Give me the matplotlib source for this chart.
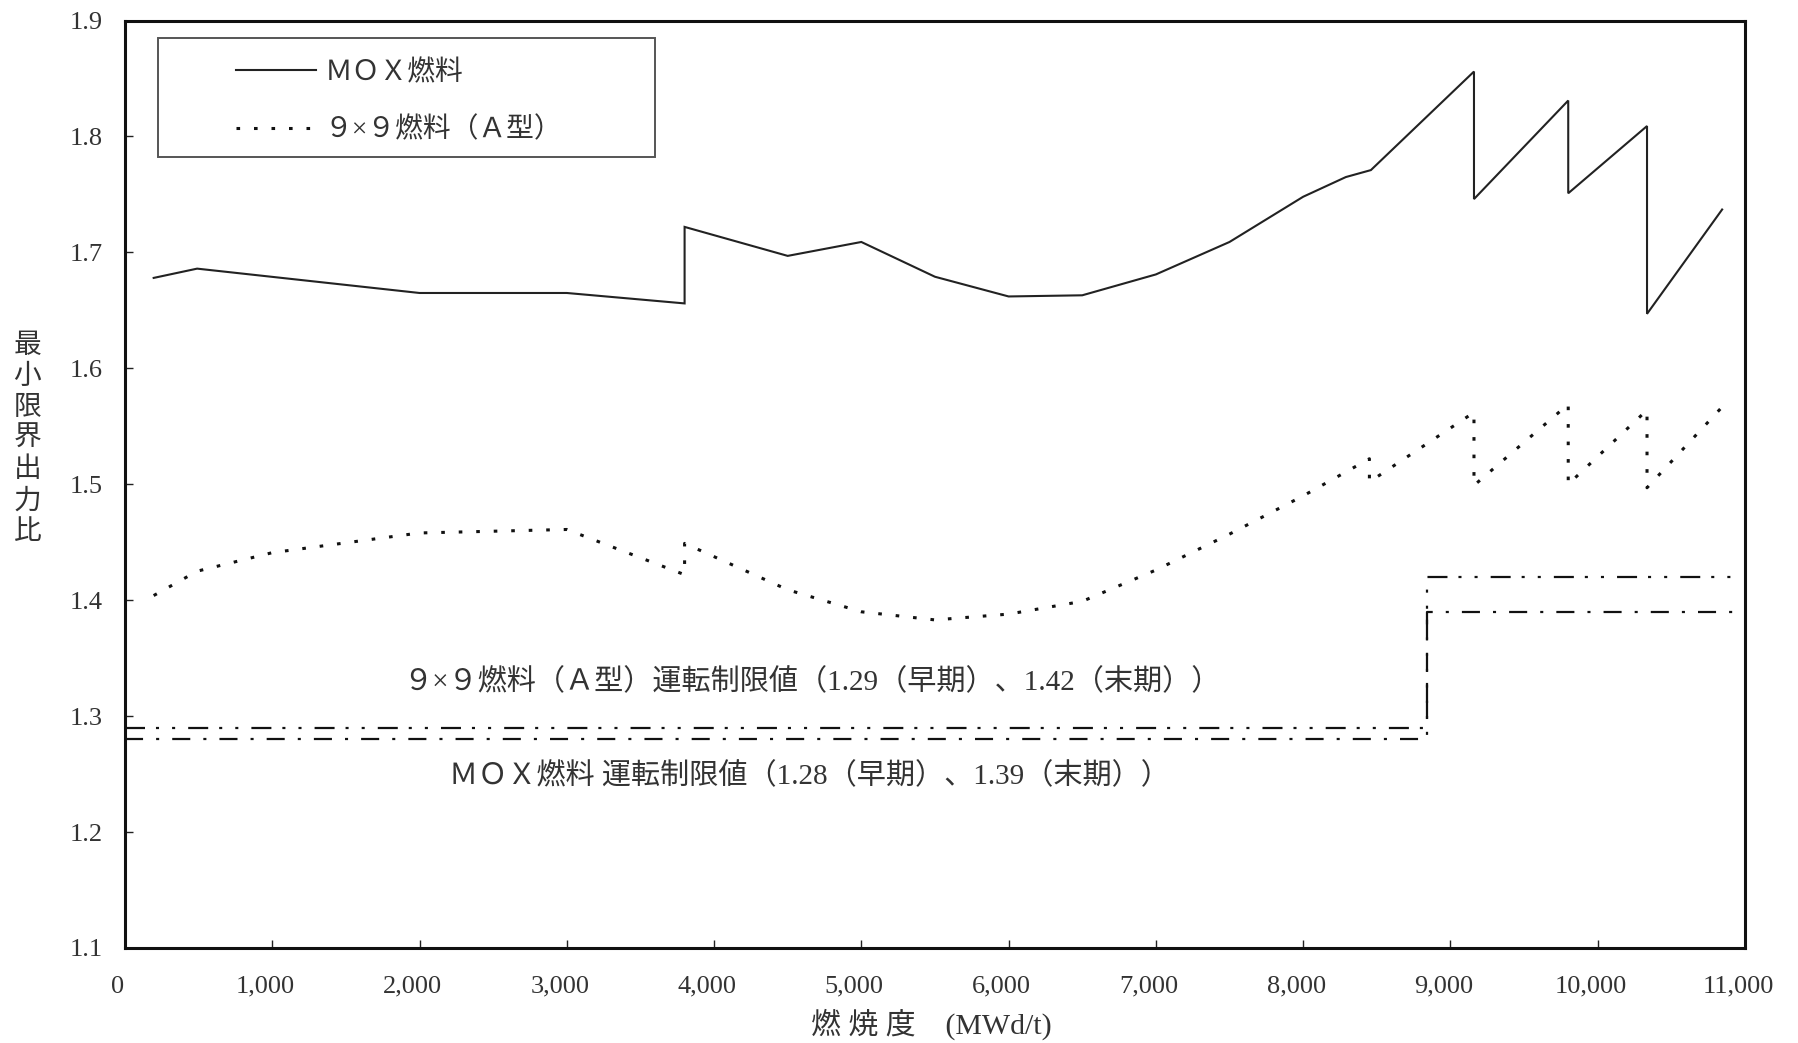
import matplotlib
matplotlib.use("Agg")
import matplotlib.pyplot as plt
from matplotlib.patches import Rectangle
from matplotlib.ticker import FuncFormatter, FixedLocator
import matplotlib.transforms as mtransforms

plt.rcParams['font.family'] = ['Liberation Serif', 'Noto Sans CJK JP']
plt.rcParams['lines.scale_dashes'] = False

# ---- data ----
mox_x = [195, 490, 2000, 3000, 3800, 3800, 4500, 5000, 5500, 6000, 6500, 7000,
         7500, 8000, 8290, 8460, 9160, 9160, 9800, 9800, 10335, 10335, 10845]
mox_y = [1.678, 1.686, 1.665, 1.665, 1.656, 1.722, 1.697, 1.709, 1.679, 1.662, 1.663, 1.681,
         1.709, 1.748, 1.765, 1.771, 1.856, 1.746, 1.831, 1.751, 1.809, 1.647, 1.737]

a9_x = [195, 490, 1000, 2000, 3000, 3800, 3800, 4500, 5000, 5500, 6000, 6500, 7000,
        7500, 8000, 8450, 8450, 9160, 9160, 9800, 9800, 10335, 10335, 10840]
a9_y = [1.404, 1.425, 1.441, 1.458, 1.461, 1.422, 1.449, 1.409, 1.390, 1.383, 1.388, 1.399, 1.426,
        1.457, 1.490, 1.522, 1.502, 1.562, 1.499, 1.569, 1.500, 1.564, 1.497, 1.566]

limit_x = [0, 8840, 8840, 10990]
limit_a9_y = [1.29, 1.29, 1.42, 1.42]
limit_mox_y = [1.28, 1.28, 1.39, 1.39]

x_ticks = [0, 1000, 2000, 3000, 4000, 5000, 6000, 7000, 8000, 9000, 10000, 11000]
y_ticks = [1.1, 1.2, 1.3, 1.4, 1.5, 1.6, 1.7, 1.8, 1.9]

label_mox = "ＭＯＸ燃料"
label_a9 = "９×９燃料（Ａ型）"
text_a9_limit = "９×９燃料（Ａ型）運転制限値（1.29（早期）、1.42（末期））"
text_mox_limit = "ＭＯＸ燃料 運転制限値（1.28（早期）、1.39（末期））"
xlabel = "燃 焼 度　(MWd/t)"
ylabel = "最小限界出力比"

# ---- figure ----
fig = plt.figure(figsize=(17.98, 10.43), dpi=100)
ax = fig.add_axes([0.0695, 0.0911, 0.901, 0.8892])

line_col = '#222222'
l_mox, = ax.plot(mox_x, mox_y, color=line_col, lw=1.5, solid_joinstyle='miter')
l_a9, = ax.plot(a9_x, a9_y, color='#111111', lw=2.2, linestyle=(0, (2.6, 10.0)))
ax.plot(limit_x, limit_a9_y, color='#111111', lw=1.6,
        linestyle=(0, (14.4, 7.9, 2.2, 9.4, 2.2, 9.4)))
ax.plot(limit_x, limit_mox_y, color='#111111', lw=1.6,
        linestyle=(0, (13.0, 9.4, 2.2, 9.4)))

ax.set_xlim(0, 11000)
ax.set_ylim(1.1, 1.9)
ax.xaxis.set_major_locator(FixedLocator(x_ticks))
ax.yaxis.set_major_locator(FixedLocator(y_ticks))
ax.xaxis.set_major_formatter(FuncFormatter(lambda v, p: f"{int(round(v)):,}"))
ax.yaxis.set_major_formatter(FuncFormatter(lambda v, p: f"{v:.1f}"))

ax.tick_params(axis='both', direction='in', length=6, width=1.0, color='#222222',
               labelsize=19, labelcolor='#333333')
ax.tick_params(axis='x', pad=20)
ax.tick_params(axis='y', pad=16)
for s in ax.spines.values():
    s.set_linewidth(2.2)
    s.set_color('#111111')

offset = mtransforms.ScaledTranslation(-7 / 100, 0, fig.dpi_scale_trans)
for lab in ax.get_xticklabels():
    lab.set_transform(lab.get_transform() + offset)

ax.text(4665, 1.329, text_a9_limit, ha='center', va='center', fontsize=21, color='#333333')
ax.text(4651, 1.2477, text_mox_limit, ha='center', va='center', fontsize=21, color='#333333')

ax.set_xlabel(xlabel, fontsize=21.5, color='#333333', va='center')
ax.xaxis.set_label_coords(0.4975, -0.082)
ax.set_ylabel("\n".join(ylabel), fontsize=20, color='#333333', rotation=0,
              va='center', ha='center', linespacing=1.3)
ax.yaxis.set_label_coords(-0.0602, 0.548)

# legend
ax.add_patch(Rectangle((0.0204, 0.8528), 0.3068, 0.1283, transform=ax.transAxes,
                       fill=False, edgecolor='#555555', lw=1.4, zorder=4))
leg = ax.legend([l_mox, l_a9], [label_mox, label_a9], loc='center left',
                bbox_to_anchor=(0.0685, 0.9127), frameon=False, fontsize=20,
                borderpad=0, borderaxespad=0, handlelength=2.9, handletextpad=0.3,
                labelspacing=1.1)
for t in leg.get_texts():
    t.set_color('#333333')

fig.savefig("out.png", dpi=100, facecolor='white')
